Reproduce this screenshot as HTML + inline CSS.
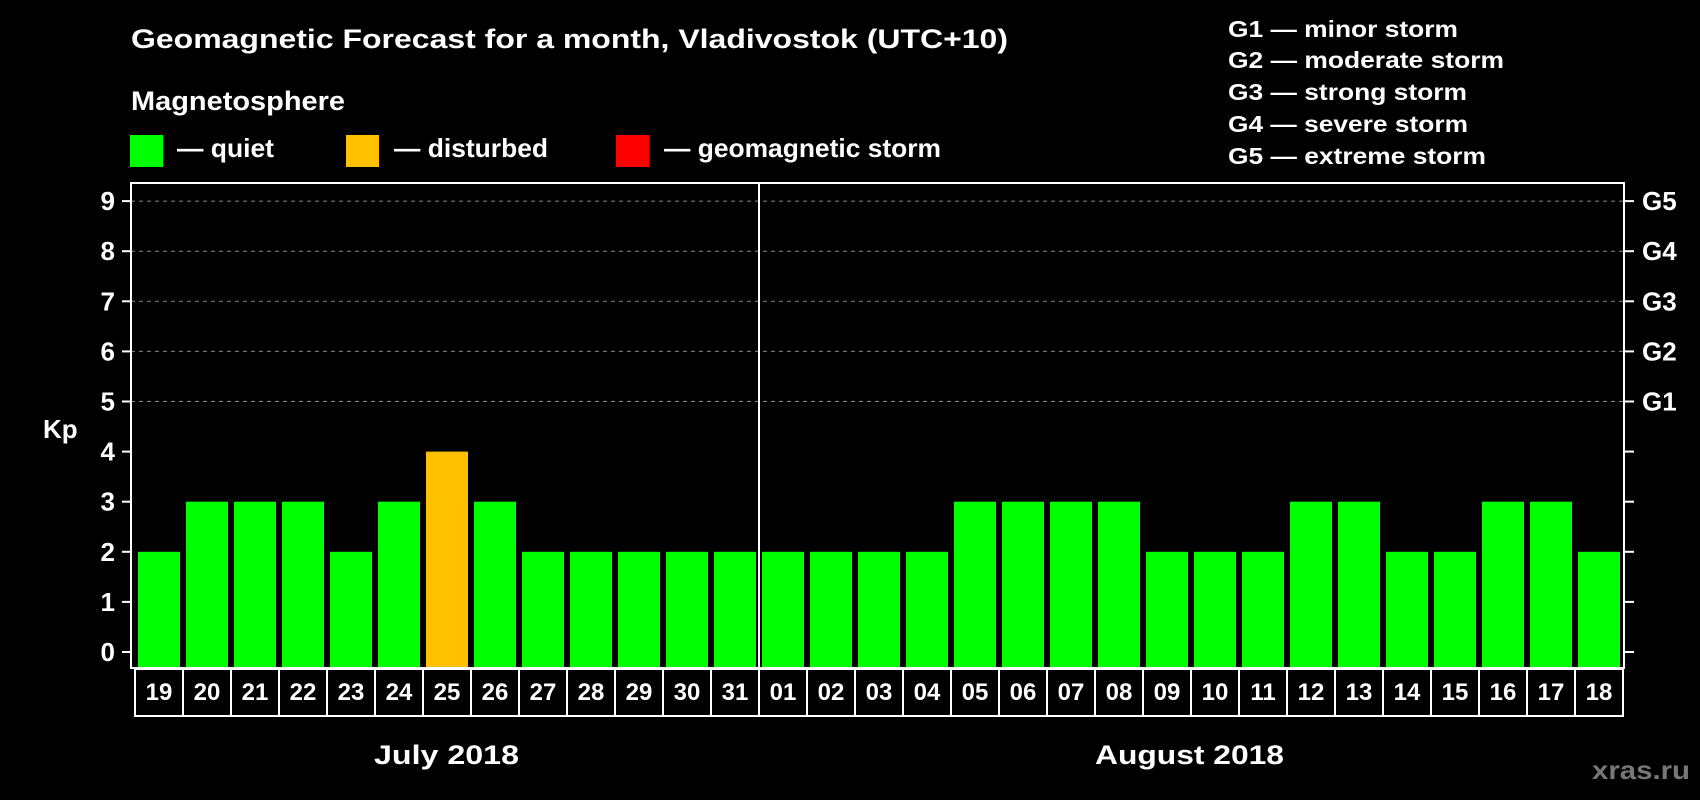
<!DOCTYPE html>
<html><head><meta charset="utf-8"><style>
html,body{margin:0;padding:0;background:#000;}
svg{display:block;font-family:"Liberation Sans",Arial,sans-serif;font-weight:bold;}
</style></head><body>
<svg id="c" width="1700" height="800" viewBox="0 0 1700 800" xmlns="http://www.w3.org/2000/svg">
<rect x="0" y="0" width="1700" height="800" fill="#000"/>
<text x="131" y="48" fill="#fff" font-size="27" textLength="877" lengthAdjust="spacingAndGlyphs">Geomagnetic Forecast for a month, Vladivostok (UTC+10)</text>
<text x="131" y="110" fill="#fff" font-size="27" textLength="214" lengthAdjust="spacingAndGlyphs">Magnetosphere</text>
<g>
<rect x="130" y="135" width="33" height="32" fill="#00ff00"/>
<text x="177" y="157" fill="#fff" font-size="26" textLength="97" lengthAdjust="spacingAndGlyphs">— quiet</text>
</g>
<g>
<rect x="346" y="135" width="33" height="32" fill="#ffc000"/>
<text x="394" y="157" fill="#fff" font-size="26" textLength="154" lengthAdjust="spacingAndGlyphs">— disturbed</text>
</g>
<g>
<rect x="616" y="135" width="33" height="32" fill="#ff0000"/>
<text x="664" y="157" fill="#fff" font-size="26" textLength="277" lengthAdjust="spacingAndGlyphs">— geomagnetic storm</text>
</g>
<g font-size="23" fill="#fff">
<text x="1228" y="37" textLength="230" lengthAdjust="spacingAndGlyphs">G1 — minor storm</text>
<text x="1228" y="68" textLength="276" lengthAdjust="spacingAndGlyphs">G2 — moderate storm</text>
<text x="1228" y="100" textLength="239" lengthAdjust="spacingAndGlyphs">G3 — strong storm</text>
<text x="1228" y="132" textLength="240" lengthAdjust="spacingAndGlyphs">G4 — severe storm</text>
<text x="1228" y="164" textLength="258" lengthAdjust="spacingAndGlyphs">G5 — extreme storm</text>
</g>
<text x="43" y="438" fill="#fff" font-size="26">Kp</text>
<g id="grid"></g>
<g id="bars"></g>
<g id="axes"></g>
<text x="374" y="764" fill="#fff" font-size="27" textLength="145" lengthAdjust="spacingAndGlyphs">July 2018</text>
<text x="1095" y="764" fill="#fff" font-size="27" textLength="189" lengthAdjust="spacingAndGlyphs">August 2018</text>
<text x="1592" y="779" fill="#777" font-size="26" textLength="98" lengthAdjust="spacingAndGlyphs">xras.ru</text>
</svg>
<script>
const days = ["19","20","21","22","23","24","25","26","27","28","29","30","31","01","02","03","04","05","06","07","08","09","10","11","12","13","14","15","16","17","18"];
const kpValues = [2,3,3,3,2,3,4,3,2,2,2,2,2,2,2,2,2,3,3,3,3,2,2,2,3,3,2,2,3,3,2];
const yTicks = [0,1,2,3,4,5,6,7,8,9];
const gLabels = ["G1","G2","G3","G4","G5"];

const NS = "http://www.w3.org/2000/svg";
const plotL = 131, plotR = 1624, plotT = 183, plotB = 668;
const cellL = 135, cellR = 1623, cellT = 669, cellB = 716;
const y0 = 652, unit = 50.1;
function yScale(v){ return y0 - unit * v; }
const cellW = (cellR - cellL) / days.length;
function xCenter(i){ return cellL + cellW * (i + 0.5); }
function mk(tag, attrs, parent){ const e = document.createElementNS(NS, tag); for (const k in attrs) e.setAttribute(k, attrs[k]); parent.appendChild(e); return e; }
function color(v){ return v >= 5 ? "#ff0000" : (v >= 4 ? "#ffc000" : "#00ff00"); }

const grid = document.getElementById("grid");
const bars = document.getElementById("bars");
const axes = document.getElementById("axes");

yTicks.forEach(function(t){
  const y = yScale(t);
  if (t >= 5) {
    const gl = mk("line", {x1: plotL, x2: plotR, y1: y, y2: y, stroke: "#888", "stroke-width": 1, "stroke-dasharray": "4,4"}, grid);
    
    
  }
  const tl = mk("line", {x1: 122, x2: plotL, y1: y, y2: y, stroke: "#fff", "stroke-width": 2}, axes);
  
  
  const tr = mk("line", {x1: plotR, x2: 1634, y1: y, y2: y, stroke: "#fff", "stroke-width": 2}, axes);
  
  
  const lab = mk("text", {x: 115, y: y + 9, fill: "#fff", "font-size": 26, "text-anchor": "end"}, axes);
  lab.textContent = String(t);
  
  
  if (t >= 5) {
    const gt = mk("text", {x: 1642, y: y + 9, fill: "#fff", "font-size": 26}, axes);
    gt.textContent = gLabels[t - 5];
    
    
  }
});

kpValues.forEach(function(v, i){
  const cx = xCenter(i);
  const top = yScale(v);
  const b = mk("rect", {x: cx - 21, y: top, width: 42, height: plotB - top, fill: color(v)}, bars);
  
  
});

const frame = mk("rect", {x: plotL, y: plotT, width: plotR - plotL, height: plotB - plotT, fill: "none", stroke: "#fff", "stroke-width": 2}, axes);



days.forEach(function(d, i){
  const x = cellL + cellW * i;
  const c = mk("rect", {x: x, y: cellT, width: cellW, height: cellB - cellT, fill: "none", stroke: "#fff", "stroke-width": 2}, axes);
  
  
  const t = mk("text", {x: xCenter(i), y: 700, fill: "#fff", "font-size": 24, "text-anchor": "middle"}, axes);
  t.textContent = d;
  
  
});

const splitIdx = days.indexOf("01");
const sx = cellL + cellW * splitIdx;
const sep = mk("line", {x1: sx, x2: sx, y1: plotT, y2: cellB, stroke: "#fff", "stroke-width": 2}, axes);


</script>
</body></html>
